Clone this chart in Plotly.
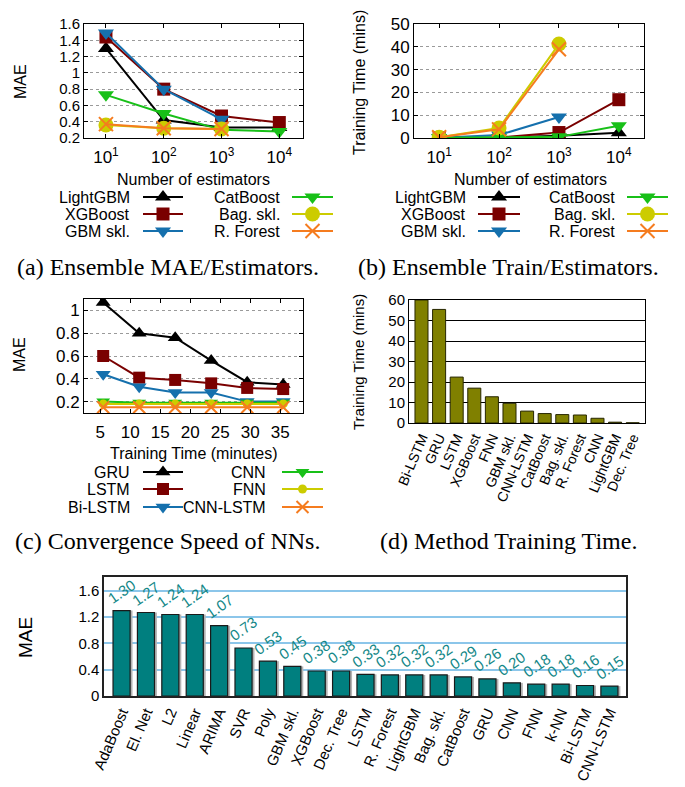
import plotly.graph_objects as go

W, H = 685, 787

# ---------------- data ----------------
# (a) / (b): ensemble methods vs number of estimators
estimators = [10, 100, 1000, 10000]
mae_lightgbm = [1.30, 0.42, 0.33, 0.33]
mae_xgboost = [1.44, 0.80, 0.47, 0.39]
mae_gbm = [1.49, 0.80, 0.43]
mae_catboost = [0.73, 0.50, 0.30, 0.28]
mae_bagging = [0.36, 0.32, 0.31]
mae_forest = [0.37, 0.32, 0.31]

time_lightgbm = [0.1, 0.2, 1.0, 2.3]
time_xgboost = [0.1, 0.2, 2.4, 16.8]
time_gbm = [0.1, 1.3, 9.2]
time_catboost = [0.1, 0.2, 0.5, 5.4]
time_bagging = [0.3, 4.4, 41.2]
time_forest = [0.3, 3.8, 38.9]

# (c): neural network convergence
nn_minutes = [5.5, 11.5, 17.5, 23.5, 29.5, 35.5]
mae_gru = [1.07, 0.80, 0.76, 0.56, 0.37, 0.35]
mae_lstm = [0.60, 0.41, 0.39, 0.36, 0.32, 0.31]
mae_bilstm = [0.44, 0.33, 0.28, 0.28, 0.20, 0.20]
mae_cnn = [0.20, 0.19, 0.19, 0.19, 0.19, 0.19]
mae_fnn = [0.18, 0.18, 0.18, 0.18, 0.18, 0.18]
mae_cnnlstm = [0.15, 0.15, 0.15, 0.15, 0.15, 0.15]

# (d): training time per method
methods_time = ["Bi-LSTM", "GRU", "LSTM", "XGBoost", "FNN", "GBM skl.", "CNN-LSTM",
                "CatBoost", "Bag. skl.", "R. Forest", "CNN", "LightGBM", "Dec. Tree"]
train_minutes = [60, 55.4, 22.4, 17.0, 12.8, 9.6, 5.8, 4.6, 4.1, 3.9, 2.3, 0.4, 0.1]

# (e): overall MAE per method
methods_mae = ["AdaBoost", "El. Net", "L2", "Linear", "ARIMA", "SVR", "Poly", "GBM skl.",
               "XGBoost", "Dec. Tree", "LSTM", "R. Forest", "LightGBM", "Bag. skl.",
               "CatBoost", "GRU", "CNN", "FNN", "k-NN", "Bi-LSTM", "CNN-LSTM"]
mae_all = [1.30, 1.27, 1.24, 1.24, 1.07, 0.73, 0.53, 0.45, 0.38, 0.38, 0.33, 0.32,
           0.32, 0.32, 0.29, 0.26, 0.20, 0.18, 0.18, 0.16, 0.15]

est_ticks = ["10<sup>1</sup>", "10<sup>2</sup>", "10<sup>3</sup>", "10<sup>4</sup>"]

# ---------------- styles ----------------
SANS = "Liberation Sans, Arial, sans-serif"
SERIF = "Liberation Serif, Times New Roman, serif"
C_BLACK, C_RED, C_BLUE = "#000000", "#7a0000", "#1570ad"
C_GREEN, C_YELLOW, C_ORANGE = "#18c018", "#cccc00", "#f57c1f"

ens_styles = [
    ("LightGBM", C_BLACK, "triangle-up", 14),
    ("XGBoost", C_RED, "square", 13),
    ("GBM skl.", C_BLUE, "triangle-down", 14),
    ("CatBoost", C_GREEN, "triangle-down", 14),
    ("Bag. skl.", C_YELLOW, "circle", 15),
    ("R. Forest", C_ORANGE, "x-thin", 14),
]
nn_styles = [
    ("GRU", C_BLACK, "triangle-up", 13),
    ("LSTM", C_RED, "square", 12),
    ("Bi-LSTM", C_BLUE, "triangle-down", 13),
    ("CNN", C_GREEN, "triangle-down", 12),
    ("FNN", C_YELLOW, "circle", 9),
    ("CNN-LSTM", C_ORANGE, "x-thin", 12),
]


def marker(color, symbol, size):
    if symbol == "x-thin":
        return dict(symbol=symbol, size=size, color=color, line=dict(color=color, width=2))
    return dict(symbol=symbol, size=size, color=color, line=dict(width=0))


def dom_x(left, right):
    return [left / W, right / W]


def dom_y(top, bottom):
    return [1 - bottom / H, 1 - top / H]


fig = go.Figure()

# ---- (a) MAE vs estimators ----
ens_mae = [mae_lightgbm, mae_xgboost, mae_gbm, mae_catboost, mae_bagging, mae_forest]
for (name, col, sym, sz), vals in zip(ens_styles, ens_mae):
    fig.add_trace(go.Scatter(x=estimators[:len(vals)], y=vals, xaxis="x", yaxis="y",
                             mode="lines+markers", line=dict(color=col, width=2),
                             marker=marker(col, sym, sz), showlegend=False))

# ---- (b) training time vs estimators ----
ens_time = [time_lightgbm, time_xgboost, time_gbm, time_catboost, time_bagging, time_forest]
for (name, col, sym, sz), vals in zip(ens_styles, ens_time):
    fig.add_trace(go.Scatter(x=estimators[:len(vals)], y=vals, xaxis="x2", yaxis="y2",
                             mode="lines+markers", line=dict(color=col, width=2),
                             marker=marker(col, sym, sz), showlegend=False))

# ---- (c) convergence of NNs ----
nn_mae = [mae_gru, mae_lstm, mae_bilstm, mae_cnn, mae_fnn, mae_cnnlstm]
for (name, col, sym, sz), vals in zip(nn_styles, nn_mae):
    fig.add_trace(go.Scatter(x=nn_minutes, y=vals, xaxis="x3", yaxis="y3",
                             mode="lines+markers", line=dict(color=col, width=2),
                             marker=marker(col, sym, sz), showlegend=False))

# ---- (d) training time bars ----
fig.add_trace(go.Bar(x=methods_time, y=train_minutes, xaxis="x4", yaxis="y4",
                     width=0.74, offset=-0.37,
                     marker=dict(color="#808000", line=dict(color="#262600", width=1)),
                     showlegend=False))

# ---- (e) MAE bars, with a soft drop shadow behind each one ----
fig.add_trace(go.Bar(x=methods_mae, y=mae_all, xaxis="x5", yaxis="y5",
                     width=0.70, offset=-0.25,
                     marker=dict(color="#b4b4b4", line=dict(width=0)),
                     hoverinfo="skip", showlegend=False))
fig.add_trace(go.Bar(x=methods_mae, y=mae_all, xaxis="x5", yaxis="y5",
                     width=0.70, offset=-0.35,
                     marker=dict(color="#007f7f", line=dict(color="#1a1a1a", width=1.2)),
                     showlegend=False))

annotations = []
for name, v in zip(methods_mae, mae_all):
    annotations.append(dict(x=name, y=v, xref="x5", yref="y5", text=f"{v:.2f}",
                            textangle=-35, xanchor="center", yanchor="bottom", yshift=1,
                            showarrow=False, font=dict(family=SANS, size=15, color="#138787")))

# ---- legend keys (pixel space overlay) ----
def legend_block(styles, rows, col_specs):
    for i, (name, col, sym, sz) in enumerate(styles):
        c = i // 3
        r = i % 3
        text_right, k0, k1 = col_specs[c]
        y = rows[r]
        fig.add_trace(go.Scatter(x=[k0, k1], y=[y, y], xaxis="x6", yaxis="y6", mode="lines",
                                 line=dict(color=col, width=2), showlegend=False,
                                 hoverinfo="skip"))
        fig.add_trace(go.Scatter(x=[(k0 + k1) / 2], y=[y], xaxis="x6", yaxis="y6",
                                 mode="markers", marker=marker(col, sym, sz),
                                 showlegend=False, hoverinfo="skip"))
        annotations.append(dict(x=text_right, y=y, xref="x6", yref="y6", text=name,
                                xanchor="right", yanchor="middle", showarrow=False,
                                font=dict(family=SANS, size=16, color="black")))


legend_block(ens_styles, [197, 214, 231], [(132, 143, 183), (282, 292, 333)])
legend_block(ens_styles, [197, 214, 231], [(468, 478, 520), (617, 627, 668)])
legend_block(nn_styles, [472, 489, 507], [(132, 143, 183), (268, 282, 323)])


def text_px(x, y, text, size, family=SANS, angle=0):
    annotations.append(dict(x=x / W, y=1 - y / H, xref="paper", yref="paper", text=text,
                            textangle=angle, xanchor="center", yanchor="middle",
                            showarrow=False, font=dict(family=family, size=size, color="black")))


# axis titles
text_px(20, 82, "MAE", 16, angle=-90)
text_px(193, 180, "Number of estimators", 16)
text_px(360, 83, "Training Time (mins)", 16, angle=-90)
text_px(530, 180, "Number of estimators", 16)
text_px(20, 355, "MAE", 16, angle=-90)
text_px(193, 453, "Training Time (minutes)", 16)
text_px(358, 362, "Training Time (mins)", 15, angle=-90)
text_px(25, 637, "MAE", 19, angle=-90)

# captions
text_px(168, 267, "(a) Ensemble MAE/Estimators.", 24, SERIF)
text_px(508, 267, "(b) Ensemble Train/Estimators.", 24, SERIF)
text_px(167, 541, "(c) Convergence Speed of NNs.", 24, SERIF)
text_px(508, 541, "(d) Method Training Time.", 24, SERIF)

tick_font = dict(family=SANS, size=17, color="black")
tight_tick_font = dict(family=SANS, size=15, color="black")
frame = dict(showline=True, linecolor="black", linewidth=1, mirror="ticks",
             ticks="inside", ticklen=4, tickcolor="black", zeroline=False, automargin=False)
dot_grid = dict(showgrid=True, gridcolor="#9a9a9a", griddash="dot", gridwidth=1)

fig.update_layout(
    width=W, height=H, margin=dict(l=0, r=0, t=0, b=0, autoexpand=False),
    paper_bgcolor="white", plot_bgcolor="rgba(0,0,0,0)", showlegend=False,
    barmode="overlay",
    xaxis=dict(domain=dom_x(84, 303), anchor="y", type="log", range=[0.62, 4.41],
               tickvals=estimators, ticktext=est_ticks, tickfont=tick_font,
               showgrid=False, ticklabelstandoff=4, **frame),
    yaxis=dict(domain=dom_y(24, 138), anchor="x", range=[0.2, 1.6], dtick=0.2,
               tickfont=tight_tick_font, **dot_grid, **frame),
    xaxis2=dict(domain=dom_x(414, 644), anchor="y2", type="log", range=[0.58, 4.42],
                tickvals=estimators, ticktext=est_ticks, tickfont=tick_font,
                showgrid=False, ticklabelstandoff=4, **frame),
    yaxis2=dict(domain=dom_y(24, 138), anchor="x2", range=[0, 50], dtick=10,
                tickfont=tick_font, **dot_grid, **frame),
    xaxis3=dict(domain=dom_x(84, 303), anchor="y3", range=[2.3, 38.8], tickvals=[5, 10, 15, 20, 25, 30, 35],
                tickfont=tick_font, showgrid=False, ticklabelstandoff=4, **frame),
    yaxis3=dict(domain=dom_y(299, 413), anchor="x3", range=[0.1, 1.1],
                tickvals=[0.2, 0.4, 0.6, 0.8, 1], tickfont=tick_font, **dot_grid, **frame),
    xaxis4=dict(domain=dom_x(409, 645), anchor="y4", range=[-0.71, 12.7], tickangle=-67,
                tickfont=dict(family=SANS, size=14, color="black"), showline=True,
                linecolor="black", mirror=True, ticks="", showgrid=False, automargin=False),
    yaxis4=dict(domain=dom_y(300, 423), anchor="x4", range=[0, 60], dtick=10,
                tickfont=dict(family=SANS, size=15, color="black"), showline=True,
                linecolor="black", mirror=True, ticks="", showgrid=True,
                gridcolor="black", gridwidth=1, zeroline=False, automargin=False),
    xaxis5=dict(domain=dom_x(104, 626), anchor="y5", range=[-0.72, 20.68], tickangle=-67,
                tickfont=dict(family=SANS, size=15, color="black"), showline=True,
                linecolor="#222222", linewidth=1.5, mirror=True, ticks="", showgrid=False,
                automargin=False),
    yaxis5=dict(domain=dom_y(577, 696), anchor="x5", range=[0, 1.81],
                tickvals=[0, 0.4, 0.8, 1.2, 1.6], ticktext=["0", "0.4", "0.8", "1.2", "1.6"],
                tickfont=dict(family=SANS, size=15, color="black"), showline=True,
                linecolor="#222222", linewidth=1.5, mirror=True, ticks="", showgrid=True,
                gridcolor="#8cc6ea", gridwidth=1.5, zeroline=False, automargin=False),
    xaxis6=dict(domain=[0, 1], anchor="y6", range=[0, W], visible=False, fixedrange=True,
                automargin=False),
    yaxis6=dict(domain=[0, 1], anchor="x6", range=[H, 0], visible=False, fixedrange=True,
                automargin=False),
    annotations=annotations,
)

fig.write_html("out.html")
